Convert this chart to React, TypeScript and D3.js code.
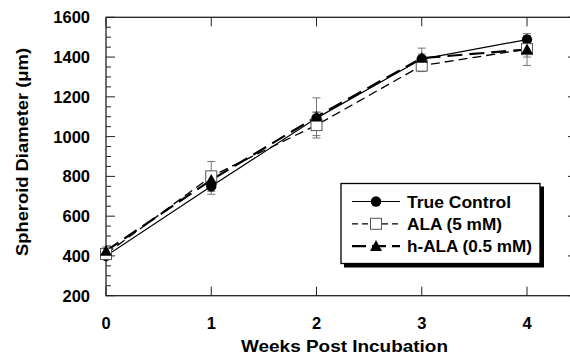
import React from "react";
import * as d3 from "d3";

const weeks = [0, 1, 2, 3, 4];
const trueControl = [400, 750, 1093, 1390, 1488];
const trueControlErr = [15, 40, 30, 25, 20];
const ala = [410, 800, 1058, 1357, 1440];
const alaErr = [20, 75, 65, 30, 40];
const hAla = [425, 782, 1100, 1395, 1438];
const hAlaErr = [20, 30, 95, 50, 80];
const yTicks = [200, 400, 600, 800, 1000, 1200, 1400, 1600];
const xTicks = [0, 1, 2, 3, 4];
const seriesNames = ["True Control", "ALA (5 mM)", "h-ALA (0.5 mM)"];

const W = 570, H = 355;
const x = d3.scaleLinear().domain([0, 4]).range([106, 527]);
const y = d3.scaleLinear().domain([200, 1600]).range([295.7, 17.3]);
const xRight = 577;

const font = "Arial, 'Liberation Sans', sans-serif";

function Marker({ kind, cx, cy }: { kind: string; cx: number; cy: number }) {
  if (kind === "circle") return <circle cx={cx} cy={cy} r={5.2} fill="#000" />;
  if (kind === "square")
    return <rect x={cx - 5.5} y={cy - 5.5} width={11} height={11} fill="#fff" stroke="#555" strokeWidth={1} />;
  const s = 6;
  return <path d={`M${cx},${cy - s} L${cx + s},${cy + s * 0.8} L${cx - s},${cy + s * 0.8} Z`} fill="#000" />;
}

export default function App() {
  const line = d3.line<number>().x((_, i) => x(weeks[i])).y((v) => y(v));
  const series = [
    { vals: trueControl, err: trueControlErr, kind: "circle", dash: "none", sw: 1.2 },
    { vals: ala, err: alaErr, kind: "square", dash: "9,5", sw: 1.3 },
    { vals: hAla, err: hAlaErr, kind: "triangle", dash: "15,7", sw: 2.2 },
  ];
  const minorTicks = d3.range(200, 1601, 50);
  return (
    <svg width={W} height={H} style={{ position: "absolute", left: 0, top: 0 }}>
      <rect width={W} height={H} fill="#fff" />
      {/* frame */}
      <rect x={x(0)} y={y(1600)} width={xRight - x(0)} height={y(200) - y(1600)} fill="none" stroke="#222" strokeWidth={1.3} />
      {minorTicks.map((t) => {
        const major = t % 200 === 0;
        const len = major ? 9 : 5;
        return (
          <g key={t}>
            <line x1={x(0)} x2={x(0) + len} y1={y(t)} y2={y(t)} stroke="#222" strokeWidth={1} />
            <line x1={xRight} x2={xRight - len} y1={y(t)} y2={y(t)} stroke="#222" strokeWidth={1} />
          </g>
        );
      })}
      {xTicks.map((t) => (
        <g key={t}>
          <line x1={x(t)} x2={x(t)} y1={y(200)} y2={y(200) - 9} stroke="#222" strokeWidth={1} />
          <line x1={x(t)} x2={x(t)} y1={y(1600)} y2={y(1600) + 9} stroke="#222" strokeWidth={1} />
          <text x={x(t)} y={328.5} textAnchor="middle" fontFamily={font} fontWeight="bold" fontSize={16.5}>{t}</text>
        </g>
      ))}
      {yTicks.map((t) => (
        <text key={t} x={90} y={y(t) + 6} textAnchor="end" fontFamily={font} fontWeight="bold" fontSize={16.5}>{t}</text>
      ))}
      {/* error bars */}
      {series.map((s, si) =>
        s.vals.map((v, i) => (
          <g key={si + "-" + i} stroke="#777" strokeWidth={1}>
            <line x1={x(weeks[i])} x2={x(weeks[i])} y1={y(v - s.err[i])} y2={y(v + s.err[i])} />
            <line x1={x(weeks[i]) - 4} x2={x(weeks[i]) + 4} y1={y(v + s.err[i])} y2={y(v + s.err[i])} />
            <line x1={x(weeks[i]) - 4} x2={x(weeks[i]) + 4} y1={y(v - s.err[i])} y2={y(v - s.err[i])} />
          </g>
        ))
      )}
      {series.map((s, si) => (
        <path key={si} d={line(s.vals) || ""} fill="none" stroke="#000" strokeWidth={s.sw} strokeDasharray={s.dash} />
      ))}
      {series.map((s, si) =>
        s.vals.map((v, i) => <Marker key={si + "m" + i} kind={s.kind} cx={x(weeks[i])} cy={y(v)} />)
      )}
      {/* legend */}
      <rect x={344} y={186.5} width={200} height={81} fill="#000" />
      <rect x={341} y={183.5} width={199} height={80} fill="#fff" stroke="#000" strokeWidth={1.3} />
      {series.map((s, si) => {
        const ly = 201.5 + si * 22.3;
        return (
          <g key={"l" + si}>
            <line x1={352} x2={400} y1={ly} y2={ly} stroke="#000" strokeWidth={s.sw} strokeDasharray={si === 0 ? "none" : si === 1 ? "6,4" : "14,6"} />
            <Marker kind={s.kind} cx={376} cy={ly} />
            <text x={407} y={ly + 6} fontFamily={font} fontWeight="bold" fontSize={16.5} textLength={[104, 95, 125][si]} lengthAdjust="spacingAndGlyphs">{seriesNames[si]}</text>
          </g>
        );
      })}
      <text x={344.5} y={352} textAnchor="middle" fontFamily={font} fontWeight="bold" fontSize={16.5} textLength={207} lengthAdjust="spacingAndGlyphs">Weeks Post Incubation</text>
      <text transform={`translate(28,152) rotate(-90)`} textAnchor="middle" fontFamily={font} fontWeight="bold" fontSize={16.5} textLength={208} lengthAdjust="spacingAndGlyphs">Spheroid Diameter (μm)</text>
    </svg>
  );
}
